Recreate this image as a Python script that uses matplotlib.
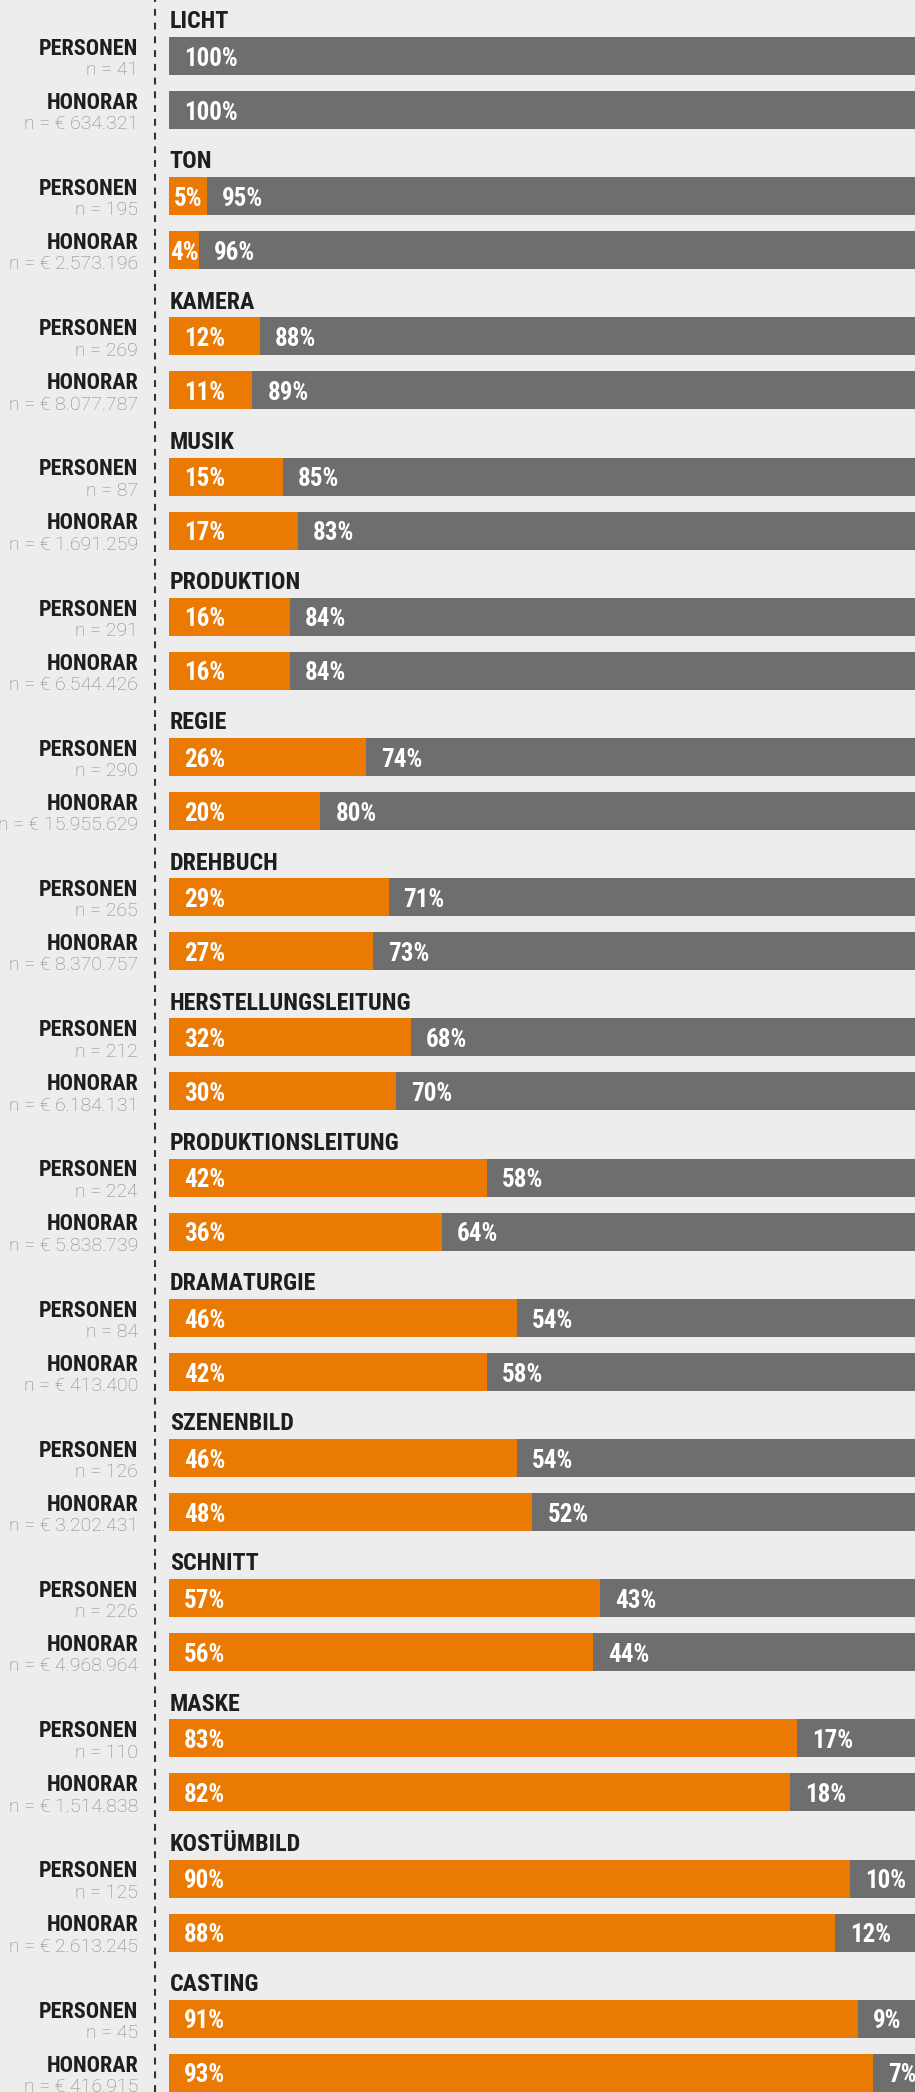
import matplotlib.pyplot as plt
import matplotlib.transforms as mtransforms

# data (share women in orange, rest grey)
categories = ['LICHT', 'TON', 'KAMERA', 'MUSIK', 'PRODUKTION', 'REGIE', 'DREHBUCH',
              'HERSTELLUNGSLEITUNG', 'PRODUKTIONSLEITUNG', 'DRAMATURGIE', 'SZENENBILD',
              'SCHNITT', 'MASKE', 'KOSTÜMBILD', 'CASTING']
personen_pct = [0, 5, 12, 15, 16, 26, 29, 32, 42, 46, 46, 57, 83, 90, 91]
honorar_pct = [0, 4, 11, 17, 16, 20, 27, 30, 36, 42, 48, 56, 82, 88, 93]
personen_n = ['41', '195', '269', '87', '291', '290', '265', '212', '224', '84',
              '126', '226', '110', '125', '45']
honorar_n = ['634.321', '2.573.196', '8.077.787', '1.691.259', '6.544.426', '15.955.629',
             '8.370.757', '6.184.131', '5.838.739', '413.400', '3.202.431', '4.968.964',
             '1.514.838', '2.613.245', '416.915']
row_labels = ['PERSONEN', 'HONORAR']

ORANGE = '#EA7A04'
GREY = '#6E6E6E'
BG = '#EDEDED'
DARK = '#1E1E1E'

W, H = 915, 2092
x0_px = 169          # where 0% starts
px_per_pct = 7.57    # 100% runs past the right edge
group_step = 140.2
bar_h = 38
first_top = 37
second_off = 54

COND = ['Roboto Condensed', 'Barlow Semi Condensed', 'DejaVu Sans']
LIGHT = ['Roboto', 'DejaVu Sans']

fig = plt.figure(figsize=(W / 100, H / 100), dpi=100, facecolor=BG)
ax = fig.add_axes([0, 0, 1, 1])
ax.set_facecolor(BG)
ax.set_xlim(-x0_px / px_per_pct, (W - x0_px) / px_per_pct)
ax.set_ylim(H, 0)
ax.axis('off')

# x in figure fraction, y in data
left_tr = mtransforms.blended_transform_factory(fig.transFigure, ax.transData)

ax.axvline(-(x0_px - 154.5) / px_per_pct, color='#333333', lw=1.5,
           linestyle=(0, (3.3, 3.3)))

pad = 15 / px_per_pct

for i, cat in enumerate(categories):
    top = first_top + i * group_step
    ax.text(0.1, top - 8.7, cat, fontsize=17.3, fontweight='bold', family=COND,
            color=DARK, ha='left', va='baseline')
    for j, (pct, nlab) in enumerate([(personen_pct[i], 'n = ' + personen_n[i]),
                                     (honorar_pct[i], 'n = € ' + honorar_n[i])]):
        btop = top + j * second_off
        yc = btop + bar_h / 2
        rest = 100 - pct
        ax.barh(yc, pct, height=bar_h, left=0, color=ORANGE)
        ax.barh(yc, rest, height=bar_h, left=pct, color=GREY)
        ybase = btop + 28.7
        if pct > 0:
            if pct < 10:
                ax.text(pct / 2, ybase, f'{pct}%', fontsize=18, fontweight='bold',
                        family=COND, color='white', ha='center', va='baseline')
            else:
                ax.text(pad, ybase, f'{pct}%', fontsize=18, fontweight='bold',
                        family=COND, color='white', ha='left', va='baseline')
        ax.text(pct + pad, ybase, f'{rest}%', fontsize=18, fontweight='bold',
                family=COND, color='white', ha='left', va='baseline')
        ax.text(138 / W, btop + 17.8, row_labels[j], transform=left_tr, fontsize=16,
                fontweight='bold', family=COND, color=DARK, ha='right', va='baseline')
        ax.text(138 / W, btop + 38.2, nlab, transform=left_tr, fontsize=14,
                fontweight='light', family=LIGHT, color='#858585', ha='right',
                va='baseline')

fig.savefig('out.png', dpi=100, facecolor=BG)
